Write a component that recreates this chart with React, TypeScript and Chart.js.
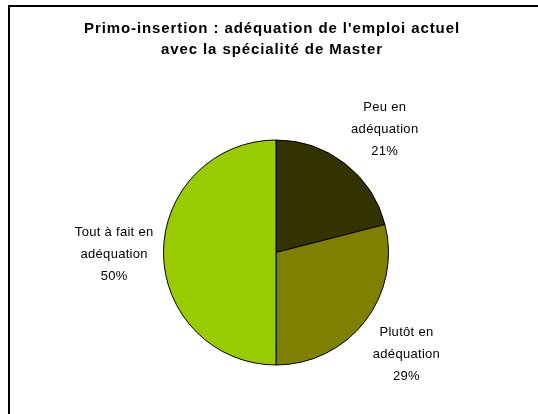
import React, { useEffect, useRef } from "react";
import { Chart, registerables } from "chart.js";

Chart.register(...registerables);

const categories = ["Peu en adéquation", "Plutôt en adéquation", "Tout à fait en adéquation"];
const labelLines = [
  ["Peu en", "adéquation"],
  ["Plutôt en", "adéquation"],
  ["Tout à fait en", "adéquation"],
];
const values = [21, 29, 50];
const colors = ["#333300", "#808000", "#99CC00"];
const titleLines = [
  "Primo-insertion : adéquation de l'emploi actuel",
  "avec la spécialité de Master",
];

const FONT = "'Liberation Sans', Arial, Helvetica, sans-serif";

const framePlugin = {
  id: "frame",
  beforeDraw(chart: any) {
    const ctx = chart.ctx;
    ctx.save();
    ctx.fillStyle = "#ffffff";
    ctx.fillRect(0, 0, chart.width, chart.height);
    ctx.strokeStyle = "#000000";
    ctx.lineWidth = 2;
    ctx.beginPath();
    ctx.moveTo(9, chart.height);
    ctx.lineTo(9, 6);
    ctx.lineTo(chart.width, 6);
    ctx.stroke();
    ctx.restore();
  },
};

const titlePlugin = {
  id: "titleText",
  afterDraw(chart: any) {
    const ctx = chart.ctx;
    ctx.save();
    ctx.font = `bold 15px ${FONT}`;
    (ctx as any).letterSpacing = "0.9px";
    ctx.fillStyle = "#000000";
    ctx.textAlign = "center";
    ctx.textBaseline = "middle";
    titleLines.forEach((t, i) => ctx.fillText(t, 272, 29 + i * 21));
    ctx.restore();
  },
};

const labelPlugin = {
  id: "sliceLabels",
  afterDatasetsDraw(chart: any) {
    const ctx = chart.ctx;
    const meta = chart.getDatasetMeta(0);
    const total = values.reduce((a, b) => a + b, 0);
    const lh = 22;
    ctx.save();
    ctx.font = `13px ${FONT}`;
    (ctx as any).letterSpacing = "0.3px";
    ctx.fillStyle = "#000000";
    ctx.textAlign = "center";
    ctx.textBaseline = "middle";
    meta.data.forEach((arc: any, i: number) => {
      const { x, y, startAngle, endAngle, outerRadius } = arc.getProps(
        ["x", "y", "startAngle", "endAngle", "outerRadius"],
        true
      );
      const mid = (startAngle + endAngle) / 2;
      const gap = 10;
      const ax = x + Math.cos(mid) * (outerRadius + gap);
      const ay = y + Math.sin(mid) * (outerRadius + gap);
      const lines = [...labelLines[i], `${Math.round((values[i] / total) * 100)}%`];
      const w = Math.max(...lines.map((l) => ctx.measureText(l).width));
      const h = lines.length * lh;
      const c = Math.cos(mid);
      const s = Math.sin(mid);
      const cx = ax + (c > 0.2 ? w / 2 : c < -0.2 ? -w / 2 : 0);
      const cy = ay + (s > 0.2 ? h * 0.4 : s < -0.2 ? -h * 0.4 : 2);
      lines.forEach((l, k) => {
        ctx.fillText(l, cx, cy - h / 2 + lh / 2 + k * lh);
      });
    });
    ctx.restore();
  },
};

export default function App() {
  const ref = useRef<HTMLCanvasElement | null>(null);
  useEffect(() => {
    if (!ref.current) return;
    const chart = new Chart(ref.current, {
      type: "pie",
      data: {
        labels: categories,
        datasets: [
          {
            data: values,
            backgroundColor: colors,
            borderColor: "#000000",
            borderWidth: 1,
          },
        ],
      },
      options: {
        animation: false,
        responsive: false,
        devicePixelRatio: 1,
        layout: { padding: { left: 163, right: 149, top: 139, bottom: 48 } },
        plugins: {
          legend: { display: false },
          tooltip: { enabled: false },
          title: { display: false },
        },
      },
      plugins: [framePlugin, titlePlugin, labelPlugin],
    });
    return () => chart.destroy();
  }, []);
  return (
    <div style={{ position: "fixed", left: 0, top: 0, width: 538, height: 414 }}>
      <canvas ref={ref} width={538} height={414} style={{ display: "block" }} />
    </div>
  );
}
